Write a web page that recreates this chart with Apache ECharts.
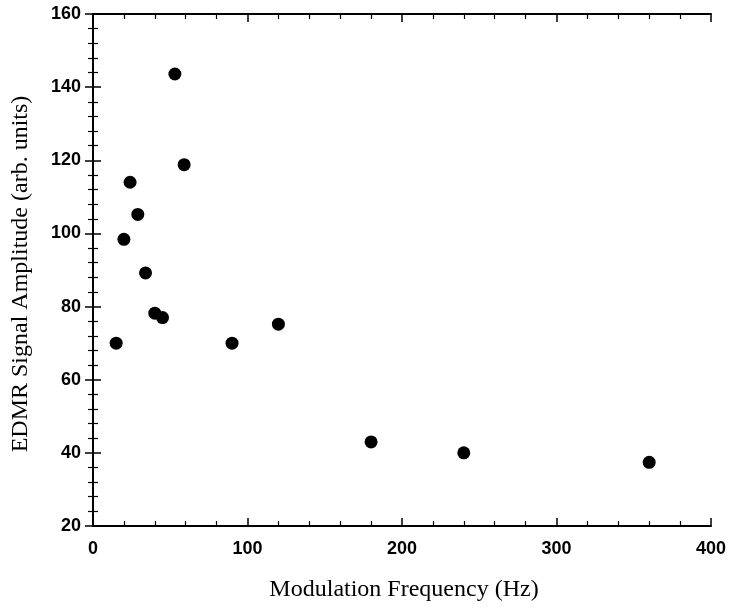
<!DOCTYPE html>
<html>
<head>
<meta charset="utf-8">
<script src="https://cdn.jsdelivr.net/npm/echarts@6/dist/echarts.min.js"></script>
<style>
  html, body { margin: 0; padding: 0; background: #fff; }
  #chart { width: 729px; height: 609px; }
</style>
</head>
<body>
<div id="chart"></div>
<script>
// Modulation frequency (Hz) and EDMR signal amplitude (arb. units)
const frequency = [15, 20, 24, 29, 34, 40, 45, 53, 59, 90, 120, 180, 240, 360];
const amplitude = [70, 98.4, 114, 105.2, 89.2, 78.2, 77, 143.6, 118.8, 70, 75.2, 43, 40, 37.4];

const xTitle = 'Modulation Frequency (Hz)';
const yTitle = 'EDMR Signal Amplitude (arb. units)';

const points = frequency.map((f, i) => [f, amplitude[i]]);

const grid = { left: 93, top: 14, width: 618, height: 512 };
const frameLine = { show: true, lineStyle: { color: '#000', width: 2 } };
const majorTick = { show: true, inside: true, length: 8, lineStyle: { color: '#000', width: 1.5 } };
const minorTick = { show: true, splitNumber: 5, length: 5, lineStyle: { color: '#000', width: 1.2 } };
const tickFont = {
  color: '#000', fontFamily: 'Liberation Sans, Arial, sans-serif',
  fontSize: 18, fontWeight: 'bold'
};
const titleFont = {
  fill: '#000', fontSize: 24,
  fontFamily: 'Liberation Serif, Times New Roman, serif',
  align: 'center', verticalAlign: 'middle'
};

const chart = echarts.init(document.getElementById('chart'));
chart.setOption({
  animation: false,
  backgroundColor: '#fff',
  grid: grid,
  xAxis: [
    {
      type: 'value', min: 0, max: 400, interval: 100, position: 'bottom',
      axisLine: frameLine, axisTick: majorTick, minorTick: minorTick,
      splitLine: { show: false },
      axisLabel: Object.assign({ margin: 14 }, tickFont)
    },
    {
      type: 'value', min: 0, max: 400, interval: 100, position: 'top',
      axisLine: frameLine, axisTick: majorTick, minorTick: minorTick,
      splitLine: { show: false }, axisLabel: { show: false }
    }
  ],
  yAxis: [
    {
      type: 'value', min: 20, max: 160, interval: 20, position: 'left',
      axisLine: frameLine, axisTick: majorTick, minorTick: minorTick,
      splitLine: { show: false },
      axisLabel: Object.assign({ margin: 12 }, tickFont)
    },
    {
      type: 'value', min: 20, max: 160, interval: 20, position: 'right',
      axisLine: frameLine, axisTick: majorTick, minorTick: minorTick,
      splitLine: { show: false }, axisLabel: { show: false }
    }
  ],
  series: [{
    type: 'scatter',
    data: points,
    symbol: 'circle',
    symbolSize: 13,
    itemStyle: { color: '#000', opacity: 1 }
  }],
  graphic: [
    {
      type: 'text', x: 404, y: 590,
      style: Object.assign({ text: xTitle }, titleFont)
    },
    {
      type: 'text', x: 21, y: 274, rotation: Math.PI / 2,
      style: Object.assign({ text: yTitle }, titleFont)
    }
  ]
});
</script>
</body>
</html>
